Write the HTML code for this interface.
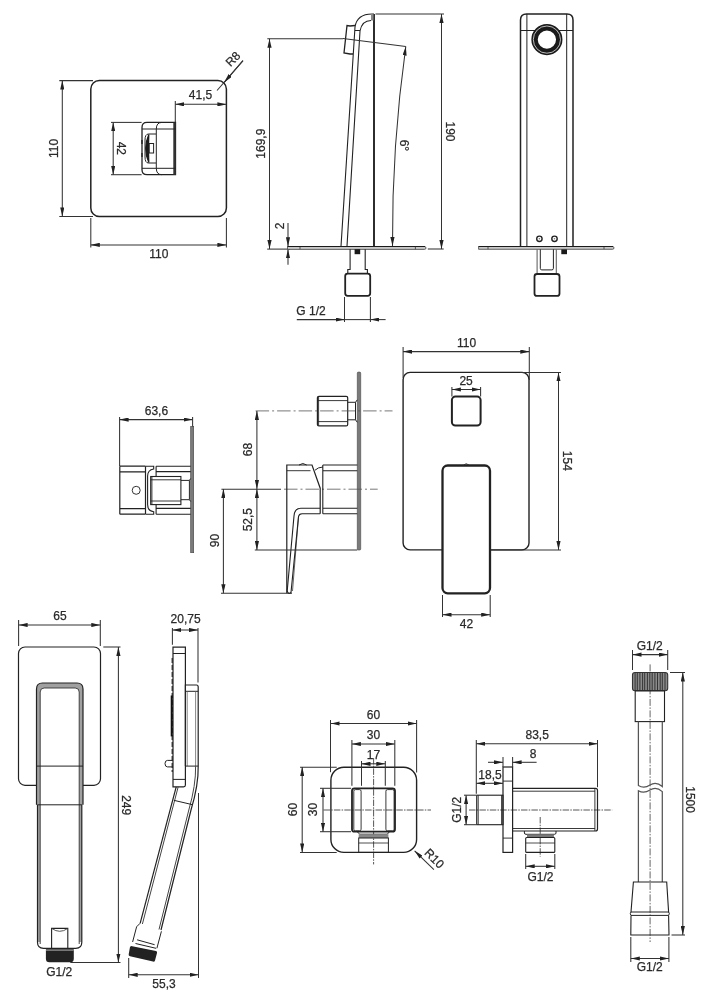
<!DOCTYPE html>
<html><head><meta charset="utf-8">
<style>
html,body{margin:0;padding:0;background:#fff;width:703px;height:1000px;overflow:hidden}
svg{display:block;will-change:transform}
.o{stroke:#222;fill:none}
.o:not([stroke-width]){stroke-width:1.5}
.d{stroke:#333;fill:none}
.d:not([stroke-width]){stroke-width:1.05}
.c{stroke:#555;stroke-width:0.8;fill:none;stroke-dasharray:13.5 3 2 3}
.cf{stroke:#444;stroke-width:0.9;fill:none;stroke-dasharray:6.5 1.2 1.5 1.2}
text{font-family:"Liberation Sans",sans-serif;font-size:12px;fill:#2a2a2a;stroke:#2a2a2a;stroke-width:0.25px;text-anchor:middle}
</style></head><body>
<svg width="703" height="1000" viewBox="0 0 703 1000">
<defs>
<marker id="a" viewBox="0 0 9 4.2" refX="9" refY="2.1" markerWidth="9" markerHeight="4.2" markerUnits="userSpaceOnUse" orient="auto-start-reverse"><path d="M0,0 L9,2.1 L0,4.2 z" fill="#222"/></marker>
</defs>

<!-- ===== Section 1: top-left plate ===== -->
<g id="s1">
<rect class="o" x="90.8" y="80.6" width="135.6" height="135.8" rx="8.5"/>
<line class="d" x1="59.3" y1="80.6" x2="93" y2="80.6"/>
<line class="d" x1="59.3" y1="216.4" x2="93" y2="216.4"/>
<line class="d" x1="62.3" y1="80.6" x2="62.3" y2="216.4" marker-start="url(#a)" marker-end="url(#a)"/>
<text transform="translate(57.5,148.4) rotate(-90)">110</text>
<line class="d" x1="90.8" y1="218" x2="90.8" y2="247.4"/>
<line class="d" x1="226.4" y1="218" x2="226.4" y2="247.4"/>
<line class="d" x1="90.8" y1="244.9" x2="226.4" y2="244.9" marker-start="url(#a)" marker-end="url(#a)"/>
<text x="158.9" y="257.7">110</text>
<!-- 41,5 -->
<line class="d" x1="175.3" y1="101" x2="175.3" y2="122"/>
<line class="d" x1="175.3" y1="104.3" x2="226.4" y2="104.3" marker-start="url(#a)" marker-end="url(#a)"/>
<text x="200.5" y="99">41,5</text>
<!-- R8 -->
<line class="d" x1="243" y1="60.7" x2="217" y2="90.5"/>
<line class="d" x1="243" y1="60.7" x2="224.3" y2="82.3" marker-end="url(#a)"/>
<text transform="translate(235.8,61.9) rotate(-45)">R8</text>
<!-- 42 -->
<line class="d" x1="111" y1="122.4" x2="141.6" y2="122.4"/>
<line class="d" x1="111" y1="174.7" x2="141.6" y2="174.7"/>
<line class="d" x1="113.2" y1="122.4" x2="113.2" y2="174.7" marker-start="url(#a)" marker-end="url(#a)"/>
<text transform="translate(117.2,148.3) rotate(90)">42</text>
<!-- handle -->
<path class="o" d="M175.5,122.4 H147 Q142,122.4 142,127.4 V169.7 Q142,174.7 147,174.7 H175.5 Z" stroke-width="1.3"/>
<rect x="173.3" y="122.4" width="2.4" height="52.3" fill="#333"/>
<path class="o" d="M162,122.4 Q156.3,122.4 156.3,129 V168.3 Q156.3,174.7 162,174.7" stroke-width="1"/>
<line class="o" x1="142" y1="129" x2="175.5" y2="129" stroke-width="1"/>
<line class="o" x1="142" y1="168.3" x2="175.5" y2="168.3" stroke-width="1"/>
<path class="o" d="M156,134 H148.5 Q145,134 145,140 V157 Q145,163 148.5,163 H156" stroke-width="1"/>
<path d="M148.8,134.5 Q142.6,148.5 148.8,162.5 Q148.2,148.5 148.8,134.5 Z" fill="#1a1a1a" stroke="#1a1a1a" stroke-width="1.2"/>
<rect class="o" x="149.2" y="143.5" width="4.4" height="9.5" stroke-width="1"/>
<line x1="142" y1="140" x2="142" y2="144" stroke="#222" stroke-width="1.4"/>
<line x1="142" y1="153" x2="142" y2="157" stroke="#222" stroke-width="1.4"/>
</g>

<!-- ===== Section 2: spout side view ===== -->
<g id="s2">
<line x1="374" y1="14" x2="374" y2="246.3" stroke="#222" stroke-width="1.9"/>
<path class="o" d="M341,246.3 L355,27 Q357,14 372,14 H374" stroke-width="1.1"/>
<path class="o" d="M347,246.3 L360,31 Q362,20.5 371,20.5" stroke-width="1.1"/>
<rect x="371" y="14" width="2.5" height="6.5" fill="#888"/>
<line class="o" x1="355" y1="30.5" x2="360" y2="30.5" stroke-width="1"/>
<path class="o" d="M355,25.5 L350,26 L347,25.5 L344,53 L350,54 L353,54" stroke-width="1.3"/>
<!-- angled reference line -->
<line class="d" x1="267.3" y1="38.8" x2="343" y2="38.8"/>
<line class="d" x1="343" y1="38.6" x2="405.8" y2="46.5"/>
<!-- 6 deg arc -->
<path class="d" d="M405.8,46.5 Q391.85,145.75 392.5,246" marker-start="url(#a)" marker-end="url(#a)"/>
<text transform="translate(400,145.4) rotate(90)">6°</text>
<!-- 190 -->
<line class="d" x1="375.5" y1="14" x2="444" y2="14"/>
<line class="d" x1="441.5" y1="14" x2="441.5" y2="249" marker-start="url(#a)" marker-end="url(#a)"/>
<text transform="translate(446.3,131.5) rotate(90)">190</text>
<!-- 169,9 -->
<line class="d" x1="269.5" y1="38.8" x2="269.5" y2="249" marker-start="url(#a)" marker-end="url(#a)"/>
<text transform="translate(265.2,143.7) rotate(-90)">169,9</text>
<line class="d" x1="267.2" y1="249.1" x2="290" y2="249.1"/>
<line class="d" x1="427.8" y1="249" x2="443.7" y2="249"/>
<!-- 2 -->
<line class="d" x1="288" y1="223" x2="288" y2="246.3" marker-end="url(#a)"/>
<line class="d" x1="288" y1="264.8" x2="288" y2="249.3" marker-end="url(#a)"/>
<text transform="translate(283.5,226) rotate(-90)">2</text>
<!-- plate -->
<path d="M287.5,246.5 H424.5 Q426,246.5 426,248 Q426,249.4 424.5,249.4 H287.5 Z" fill="#c8c8c8" stroke="#444" stroke-width="0.8"/>
<line x1="287.5" y1="246.5" x2="425" y2="246.5" stroke="#1a1a1a" stroke-width="1.2"/>
<line x1="300" y1="246.8" x2="300" y2="249.2" stroke="#333" stroke-width="0.8"/>
<line x1="415.4" y1="246.8" x2="415.4" y2="249.2" stroke="#333" stroke-width="0.8"/>
<!-- stem / nut -->
<path class="o" d="M350.1,249.2 V269.5 H347.8 V273.4 M365.2,249.2 V269.5 H367.4 V273.4" stroke-width="1.1"/>
<rect class="o" x="345.2" y="273.6" width="25" height="22.2" rx="2.5" stroke-width="1.8"/>
<rect x="354.6" y="249.2" width="5.6" height="5" fill="#1a1a1a"/>
<!-- G 1/2 -->
<line class="d" x1="344.5" y1="297" x2="344.5" y2="322"/>
<line class="d" x1="370.4" y1="297" x2="370.4" y2="322"/>
<line class="d" x1="296.8" y1="319.6" x2="344.5" y2="319.6" marker-end="url(#a)"/>
<line class="d" x1="385.6" y1="319.6" x2="370.4" y2="319.6" marker-end="url(#a)"/>
<line class="d" x1="344.5" y1="319.6" x2="370.4" y2="319.6"/>
<text x="311" y="315">G 1/2</text>
</g>

<!-- ===== Section 3: spout front view ===== -->
<g id="s3">
<path class="o" d="M520.5,246.5 V20 Q520.5,14 526.5,14 H567 Q573,14 573,20 V246.5"/>
<line class="o" x1="526.9" y1="14" x2="526.9" y2="246.5" stroke-width="1"/>
<line class="o" x1="566.7" y1="14" x2="566.7" y2="246.5" stroke-width="1"/>
<line class="o" x1="520.5" y1="30.5" x2="573" y2="30.5" stroke-width="1"/>
<circle cx="546.9" cy="39.6" r="12.35" fill="#fff" stroke="#1a1a1a" stroke-width="6.4"/>
<circle cx="546.9" cy="39.6" r="13.6" fill="none" stroke="#fff" stroke-width="0.7"/>
<circle cx="539.4" cy="238.8" r="2.7" fill="#fff" stroke="#222" stroke-width="1.4"/>
<circle cx="539.4" cy="238.8" r="0.8" fill="#777"/>
<circle cx="554.5" cy="238.8" r="2.7" fill="#fff" stroke="#222" stroke-width="1.4"/>
<circle cx="554.5" cy="238.8" r="0.8" fill="#777"/>
<path d="M478.6,246.5 H612.6 Q614,246.5 614,247.9 Q614,249.3 612.6,249.3 H478.6 Z" fill="#c8c8c8" stroke="#444" stroke-width="0.8"/>
<line x1="478.6" y1="246.5" x2="613" y2="246.5" stroke="#1a1a1a" stroke-width="1.2"/>
<line x1="488" y1="246.8" x2="488" y2="249.1" stroke="#333" stroke-width="0.8"/>
<line x1="604" y1="246.8" x2="604" y2="249.1" stroke="#333" stroke-width="0.8"/>
<path d="M537.1,249.3 V273.8 M556.3,249.3 V273.8" stroke="#666" stroke-width="1.1" fill="none"/>
<path class="o" d="M540.3,249.3 V268.4 Q540.3,269.9 541.8,269.9 H551.9 Q553.4,269.9 553.4,268.4 V249.3" stroke-width="1"/>
<rect class="o" x="534.5" y="274" width="25" height="21.9" rx="2.5" stroke-width="1.8"/>
<rect x="561.3" y="249.4" width="5.7" height="4.8" fill="#1a1a1a"/>
</g>

<!-- ===== Section 4a: mixer top view ===== -->
<g id="s4a">
<line class="d" x1="119.6" y1="417" x2="119.6" y2="466"/>
<line class="d" x1="192.6" y1="417" x2="192.6" y2="427"/>
<line class="d" x1="119.6" y1="419.6" x2="192.6" y2="419.6" marker-start="url(#a)" marker-end="url(#a)"/>
<text x="156.4" y="414.8">63,6</text>
<rect x="190.7" y="426.4" width="3" height="126.3" fill="#7a7a7a" stroke="#444" stroke-width="0.6"/>
<path class="o" d="M119.8,466.2 H145.5 M119.8,514.2 H145.5 M119.8,466.2 V514.2 M145.5,466.2 V514.2 M119.8,471.9 H145.5 M119.8,508.6 H145.5" stroke-width="1.2"/>
<circle cx="136.2" cy="490.3" r="4" fill="none" stroke="#333" stroke-width="1"/>
<path class="o" d="M145.8,466.2 H153.7 V469 Q147.6,470 147.6,476 V504.6 Q147.6,511 153.7,511.8 V514.2 H145.8" stroke-width="1.1"/>
<path class="o" d="M156.1,466.2 H190.7 M156.1,514.2 H190.7 M156.1,466.2 V476.5 M156.1,504.6 V514.2 M156.1,471.6 H190.7 M156.1,508.4 H190.7" stroke-width="1.1"/>
<rect class="o" x="150.7" y="476.5" width="30.2" height="28.1" stroke-width="1.1"/>
<path class="o" d="M150.7,479.8 H180.9 M150.7,501 H180.9 M151.9,476.5 V504.6" stroke-width="0.9"/>
<path class="o" d="M180.9,480.4 H189.4 L190.7,478.5 M180.9,499.7 H189.4 L190.7,501.5 M189.4,480.4 V499.7" stroke-width="1"/>
<!-- 90 dim (shared) -->
</g>

<!-- ===== Section 4b: mixer side view ===== -->
<g id="s4b">
<rect x="357.3" y="372.1" width="3.4" height="177.9" rx="1" fill="#7a7a7a" stroke="#444" stroke-width="0.6"/>
<rect class="o" x="317.4" y="396.3" width="30.3" height="29.6" rx="1.5" stroke-width="1.2"/>
<path class="o" d="M317.4,400.6 H347.7 M317.4,421.6 H347.7 M318.6,396.3 V425.9" stroke-width="0.9"/>
<path class="o" d="M347.7,402.3 H355.5 M347.7,419.8 H355.5 M355.5,402.3 V419.8 M355.5,402.3 L357.3,399.8 M355.5,419.8 L357.3,422.3" stroke-width="1"/>
<line class="c" x1="255.6" y1="410.9" x2="392.5" y2="410.9"/>
<line class="d" x1="221.4" y1="489.2" x2="281" y2="489.2"/>
<line class="c" x1="284" y1="489.2" x2="377.7" y2="489.2"/>
<!-- lever body -->
<path class="o" d="M286.8,593.2 V465 H312 L320.2,488.2 V513.7" stroke-width="1.2"/>
<path class="o" d="M299,465 Q302.8,462 306.7,465" stroke-width="1"/>
<path class="o" d="M286.8,470.7 H310.5" stroke-width="0.9"/>
<path class="o" d="M315,470.2 Q318,467.2 323,467" stroke-width="1"/>
<path class="o" d="M322.8,465 V513.7 M322.8,465 H357.3 M322.8,513.7 H357.3 M322.8,470.7 H357.3 M322.8,508.2 H357.3" stroke-width="1.1"/>
<path class="o" d="M320.2,508.2 H301 Q294.5,508.2 294,516 L287.2,591 Q288.5,595 291,592.5 L298.5,516.7 Q299,513.7 302,513.7 H320.2" stroke-width="1.1"/>
<path class="o" d="M298.5,516.7 L292.5,591" stroke-width="0.7"/>
<!-- dims -->
<line class="d" x1="254.8" y1="550" x2="357.3" y2="550"/>
<line class="d" x1="221" y1="593.2" x2="292" y2="593.2"/>
<line class="d" x1="256.9" y1="410.9" x2="256.9" y2="489" marker-start="url(#a)" marker-end="url(#a)"/>
<text transform="translate(252.2,449.5) rotate(-90)">68</text>
<line class="d" x1="256.9" y1="489" x2="256.9" y2="550" marker-start="url(#a)" marker-end="url(#a)"/>
<text transform="translate(252,519.7) rotate(-90)">52,5</text>
<line class="d" x1="223.4" y1="489" x2="223.4" y2="593.2" marker-start="url(#a)" marker-end="url(#a)"/>
<text transform="translate(218.5,540.5) rotate(-90)">90</text>
</g>

<!-- ===== Section 4c: mixer front view ===== -->
<g id="s4c">
<rect class="o" x="403.1" y="372.4" width="125.9" height="177.5" rx="7" stroke-width="1.4"/>
<rect x="451.9" y="396.6" width="28.7" height="28.9" rx="3.5" fill="none" stroke="#222" stroke-width="2"/>
<rect x="442.5" y="465.5" width="47.5" height="127.8" rx="5.2" fill="#fff" stroke="#222" stroke-width="2.3"/>
<path d="M463.5,465 Q466.2,462.6 469,465" fill="none" stroke="#333" stroke-width="1"/>
<!-- dims -->
<line class="d" x1="403.1" y1="347" x2="403.1" y2="378"/>
<line class="d" x1="529.3" y1="347" x2="529.3" y2="380"/>
<line class="d" x1="403.1" y1="351.6" x2="529.3" y2="351.6" marker-start="url(#a)" marker-end="url(#a)"/>
<text x="466.5" y="346.5">110</text>
<line class="d" x1="451.9" y1="387" x2="451.9" y2="396.6"/>
<line class="d" x1="480.6" y1="387" x2="480.6" y2="396.6"/>
<line class="d" x1="451.9" y1="389.5" x2="480.6" y2="389.5" marker-start="url(#a)" marker-end="url(#a)"/>
<text x="466.1" y="385.2">25</text>
<line class="d" x1="520" y1="372.4" x2="561" y2="372.4"/>
<line class="d" x1="491" y1="549.9" x2="561" y2="549.9"/>
<line class="d" x1="558.5" y1="372.4" x2="558.5" y2="549.9" marker-start="url(#a)" marker-end="url(#a)"/>
<text transform="translate(562.5,460.8) rotate(90)">154</text>
<line class="d" x1="442.5" y1="595" x2="442.5" y2="617"/>
<line class="d" x1="490.2" y1="595" x2="490.2" y2="617"/>
<line class="d" x1="442.5" y1="614.7" x2="490.2" y2="614.7" marker-start="url(#a)" marker-end="url(#a)"/>
<text x="466.5" y="627.6">42</text>
</g>

<!-- ===== Section 5a: hand shower front ===== -->
<g id="s5a">
<rect class="o" x="18.5" y="647" width="82" height="138.3" rx="6.5" stroke-width="1.2"/>
<!-- body frame -->
<path d="M36.5,804.8 V689 Q36.5,683 42.5,683 H77 Q83,683 83,689 V804.8 H81.8 V942.3 Q81.8,948.3 75.8,948.3 H43.5 Q37.5,948.3 37.5,942.3 V804.8 Z" fill="#fff"/>
<path d="M36.5,689 Q36.5,683 42.5,683 H77 Q83,683 83,689 V804.8 H81.8 V942 H79.2 V692 Q79.2,688 75.2,688 H44.2 Q40.2,688 40.2,692 V942 H37.5 V804.8 H36.5 Z" fill="#a0a0a0"/>
<path d="M36.5,804.8 V689 Q36.5,683 42.5,683 H77 Q83,683 83,689 V804.8 M37.5,804.8 V942.3 Q37.5,948.3 43.5,948.3 H75.8 Q81.8,948.3 81.8,942.3 V804.8" fill="none" stroke="#222" stroke-width="1.2"/>
<path d="M40.2,944 V692 Q40.2,688 44.2,688 H75.2 Q79.2,688 79.2,692 V944" fill="none" stroke="#333" stroke-width="0.9"/>
<line class="o" x1="36.5" y1="766.1" x2="83" y2="766.1" stroke-width="1"/>
<line class="o" x1="37.5" y1="804.8" x2="81.8" y2="804.8" stroke-width="1"/>
<!-- connector -->
<path class="o" d="M51.6,948.3 V928.4 H67.8 V948.3" stroke-width="1.1"/>
<path d="M52,928.6 Q59.7,934 67.5,928.6" fill="none" stroke="#444" stroke-width="0.9"/>
<!-- thread -->
<path d="M45.9,949.3 H73.8 V958.8 Q73.8,962.3 70.3,962.3 H49.4 Q45.9,962.3 45.9,958.8 Z" fill="#222"/>
<line x1="46" y1="950.4" x2="73.7" y2="950.4" stroke="#999" stroke-width="0.8"/>
<!-- dims -->
<line class="d" x1="18.6" y1="620" x2="18.6" y2="646"/>
<line class="d" x1="100.3" y1="620" x2="100.3" y2="646"/>
<line class="d" x1="18.6" y1="625" x2="100.3" y2="625" marker-start="url(#a)" marker-end="url(#a)"/>
<text x="60" y="619.6">65</text>
<line class="d" x1="103.3" y1="647" x2="120.5" y2="647"/>
<line class="d" x1="70.3" y1="962.5" x2="120.5" y2="962.5"/>
<line class="d" x1="118.4" y1="647" x2="118.4" y2="962.5" marker-start="url(#a)" marker-end="url(#a)"/>
<text transform="translate(122,805.2) rotate(90)">249</text>
<text x="59.3" y="975.7">G1/2</text>
</g>

<!-- ===== Section 5b: hand shower side ===== -->
<g id="s5b">
<path class="o" d="M173,786.8 V647.2 H185.4 V785 Q185.4,786.8 183.6,786.8 Z" stroke-width="1.2"/>
<line class="o" x1="173" y1="653.5" x2="185.4" y2="653.5" stroke-width="1"/>
<line class="o" x1="173" y1="779.4" x2="185.4" y2="779.4" stroke-width="1"/>
<line x1="172.2" y1="658" x2="172.2" y2="772" stroke="#222" stroke-width="1.2" stroke-dasharray="5 2"/>
<line x1="171.7" y1="695.5" x2="171.7" y2="736.4" stroke="#111" stroke-width="2"/>
<path class="o" d="M173,760.4 H167.5 Q165,760.4 165,763.6 Q165,766.9 167.5,766.9 H173" stroke-width="1"/>
<!-- head -->
<path class="o" d="M185.4,766.1 V685 H196.5 Q198.2,685 198.2,687 V766.1" stroke-width="1.2"/>
<line class="o" x1="185.4" y1="691.3" x2="198.2" y2="691.3" stroke-width="1"/>
<line x1="195.6" y1="691.3" x2="195.6" y2="766" stroke="#666" stroke-width="0.8"/>
<line x1="187.2" y1="691.3" x2="187.2" y2="766" stroke="#666" stroke-width="0.8"/>
<line class="o" x1="185.4" y1="766.1" x2="198.2" y2="766.1" stroke-width="1"/>
<!-- grip -->
<path class="o" d="M198.2,766.1 Q198.6,785 191,810 L161,930" stroke-width="1.2"/>
<path d="M195.6,766.1 Q196,785 188.8,810 L159,929.5" fill="none" stroke="#444" stroke-width="1"/>
<path class="o" d="M176.2,786.8 L140.2,923.2" stroke-width="1.2"/>
<path d="M178.2,786.8 L142.4,924" fill="none" stroke="#444" stroke-width="1"/>
<line class="o" x1="173.8" y1="800.3" x2="192.6" y2="804.7" stroke-width="1"/>
<!-- ferrule -->
<path class="o" d="M140.2,923.2 L136.6,926.8 L132.6,942" stroke-width="1"/>
<path class="o" d="M161.4,931.3 L156.9,948.3" stroke-width="1"/>
<line class="o" x1="137.1" y1="939.8" x2="154.6" y2="944.7" stroke-width="1"/>
<line class="o" x1="135.5" y1="943.5" x2="156" y2="948.3" stroke-width="1"/>
<path d="M131,946.1 L156,951 Q157.5,951.5 157,953 L155,960.5 Q154.5,962 153,961.6 L130,956.2 Q128.3,955.7 128.7,954.2 L130,947 Z" fill="#222"/>
<!-- dims -->
<line class="d" x1="172.4" y1="628" x2="172.4" y2="644.7"/>
<line class="d" x1="198" y1="628" x2="198" y2="682.6"/>
<line class="d" x1="172.4" y1="630" x2="198" y2="630" marker-start="url(#a)" marker-end="url(#a)"/>
<text x="185.6" y="622.8">20,75</text>
<line class="d" x1="128.7" y1="958" x2="128.7" y2="978"/>
<line class="d" x1="198.5" y1="793" x2="198.5" y2="978"/>
<line class="d" x1="128.7" y1="974.8" x2="198.5" y2="974.8" marker-start="url(#a)" marker-end="url(#a)"/>
<text x="164" y="988">55,3</text>
</g>

<!-- ===== Section 5c: wall outlet front ===== -->
<g id="s5c">
<rect class="o" x="330.9" y="767.2" width="85.7" height="85.2" rx="13" stroke-width="1.4"/>
<line class="cf" x1="373.6" y1="758" x2="373.6" y2="864.4"/>
<line class="cf" x1="323.5" y1="810" x2="431" y2="810"/>
<rect class="o" x="352" y="788.3" width="43" height="43.4" rx="2.5" stroke-width="1.8"/>
<rect class="o" x="353.8" y="789.6" width="7.3" height="41.2" rx="1.6" stroke-width="0.9"/>
<rect class="o" x="385.9" y="789.6" width="8.2" height="41.2" rx="1.6" stroke-width="0.9"/>
<path class="o" d="M357.1,831.7 L359.8,834.2 H387.3 L389.5,831.7" stroke-width="1"/>
<rect x="358.7" y="834.2" width="29.7" height="3.8" fill="#888"/>
<rect class="o" x="358.7" y="838" width="29.7" height="14.4" stroke-width="1"/>
<line class="o" x1="358.7" y1="843" x2="388.4" y2="843" stroke-width="0.8"/>
<!-- dims -->
<line class="d" x1="330.5" y1="720" x2="330.5" y2="772.2"/>
<line class="d" x1="416.6" y1="720" x2="416.6" y2="772.5"/>
<line class="d" x1="330.5" y1="723.5" x2="416.6" y2="723.5" marker-start="url(#a)" marker-end="url(#a)"/>
<text x="373.5" y="719">60</text>
<line class="d" x1="351.9" y1="740" x2="351.9" y2="785.8"/>
<line class="d" x1="394.8" y1="740" x2="394.8" y2="785.8"/>
<line class="d" x1="351.9" y1="744" x2="394.8" y2="744" marker-start="url(#a)" marker-end="url(#a)"/>
<text x="373.5" y="739.2">30</text>
<line class="d" x1="361.5" y1="761" x2="361.5" y2="785.8"/>
<line class="d" x1="385.3" y1="761" x2="385.3" y2="785.8"/>
<line class="d" x1="361.5" y1="763.8" x2="385.3" y2="763.8" marker-start="url(#a)" marker-end="url(#a)"/>
<text x="373.5" y="758.8">17</text>
<line class="d" x1="300" y1="767.2" x2="336.7" y2="767.2"/>
<line class="d" x1="300" y1="852.4" x2="336.7" y2="852.4"/>
<line class="d" x1="302.2" y1="767.1" x2="302.2" y2="852.4" marker-start="url(#a)" marker-end="url(#a)"/>
<text transform="translate(297.3,809.5) rotate(-90)">60</text>
<line class="d" x1="320" y1="788.3" x2="351" y2="788.3"/>
<line class="d" x1="320" y1="831.7" x2="351" y2="831.7"/>
<line class="d" x1="323" y1="788.3" x2="323" y2="831.7" marker-start="url(#a)" marker-end="url(#a)"/>
<text transform="translate(317,809.5) rotate(-90)">30</text>
<line class="d" x1="433.9" y1="869.6" x2="414.6" y2="850.8" marker-end="url(#a)"/>
<text transform="translate(431.5,861.4) rotate(45)">R10</text>
</g>

<!-- ===== Section 5d: wall outlet side ===== -->
<g id="s5d">
<line class="cf" x1="469" y1="810" x2="612.2" y2="810"/>
<line class="cf" x1="540.2" y1="817" x2="540.2" y2="856.6"/>
<rect class="o" x="503" y="767" width="9.6" height="85.4" stroke-width="1.2"/>
<path class="o" d="M503,781.1 H512.6 M503,838.1 H512.6" stroke-width="0.9"/>
<rect class="o" x="476.7" y="795.2" width="26.3" height="29.5" stroke-width="1.1"/>
<path class="o" d="M478.2,795.2 V824.7 M501.6,795.2 V824.7" stroke-width="0.9"/>
<path class="o" d="M512.6,788.4 H595.5 Q597.5,788.4 597.5,790.4 V829 Q597.5,831 595.5,831 H512.6" stroke-width="1.2"/>
<path class="o" d="M512.6,791.2 H594.9 M512.6,828.5 H594.9 M594.9,788.4 V831" stroke-width="0.9"/>
<path class="o" d="M524.4,831 V833 Q524.4,834.3 526,834.3 H554.4 Q556,834.3 556,833 V831" stroke-width="1"/>
<rect x="527" y="834.3" width="26.9" height="3.2" fill="#777"/>
<rect class="o" x="525.7" y="837.5" width="29.1" height="14.9" rx="1" stroke-width="1.1"/>
<line class="o" x1="525.7" y1="843" x2="554.8" y2="843" stroke-width="0.8"/>
<!-- dims -->
<line class="d" x1="476.3" y1="740" x2="476.3" y2="793.8"/>
<line class="d" x1="597.5" y1="740" x2="597.5" y2="787.2"/>
<line class="d" x1="476.3" y1="743.8" x2="597.5" y2="743.8" marker-start="url(#a)" marker-end="url(#a)"/>
<text x="537.2" y="739.4">83,5</text>
<line class="d" x1="503" y1="757" x2="503" y2="767"/>
<line class="d" x1="512.6" y1="757" x2="512.6" y2="767"/>
<line class="d" x1="488" y1="762.3" x2="503" y2="762.3" marker-end="url(#a)"/>
<line class="d" x1="536.6" y1="762.3" x2="512.6" y2="762.3" marker-end="url(#a)"/>
<text x="533" y="757.5">8</text>
<line class="d" x1="476.3" y1="783.3" x2="503" y2="783.3" marker-start="url(#a)" marker-end="url(#a)"/>
<text x="490" y="778.7">18,5</text>
<line class="d" x1="464" y1="795.2" x2="476" y2="795.2"/>
<line class="d" x1="464" y1="824.7" x2="476" y2="824.7"/>
<line class="d" x1="466.1" y1="795.2" x2="466.1" y2="824.7" marker-start="url(#a)" marker-end="url(#a)"/>
<text transform="translate(461.2,809.8) rotate(-90)">G1/2</text>
<line class="d" x1="525.7" y1="854" x2="525.7" y2="869"/>
<line class="d" x1="554.8" y1="854" x2="554.8" y2="869"/>
<line class="d" x1="525.7" y1="866.3" x2="554.8" y2="866.3" marker-start="url(#a)" marker-end="url(#a)"/>
<text x="540.4" y="880.8">G1/2</text>
</g>

<!-- ===== Section 5e: hose ===== -->
<g id="s5e">
<line x1="650.1" y1="664.4" x2="650.1" y2="942" stroke="#555" stroke-width="0.9" stroke-dasharray="7 1.5 1.5 1.5"/>
<rect x="632.5" y="672.5" width="35.2" height="18.3" rx="2.5" fill="#8a8a8a" stroke="#333" stroke-width="1.1"/><line x1="635.1" y1="673" x2="635.1" y2="690.3" stroke="#2a2a2a" stroke-width="0.9"/><line x1="637.3" y1="673" x2="637.3" y2="690.3" stroke="#2a2a2a" stroke-width="0.9"/><line x1="639.9" y1="673" x2="639.9" y2="690.3" stroke="#2a2a2a" stroke-width="0.9"/><line x1="642.6" y1="673" x2="642.6" y2="690.3" stroke="#2a2a2a" stroke-width="0.9"/><line x1="644.7" y1="673" x2="644.7" y2="690.3" stroke="#2a2a2a" stroke-width="0.9"/><line x1="647.4" y1="673" x2="647.4" y2="690.3" stroke="#2a2a2a" stroke-width="0.9"/><line x1="649.8" y1="673" x2="649.8" y2="690.3" stroke="#2a2a2a" stroke-width="0.9"/><line x1="652.2" y1="673" x2="652.2" y2="690.3" stroke="#2a2a2a" stroke-width="0.9"/><line x1="654.9" y1="673" x2="654.9" y2="690.3" stroke="#2a2a2a" stroke-width="0.9"/><line x1="657.5" y1="673" x2="657.5" y2="690.3" stroke="#2a2a2a" stroke-width="0.9"/><line x1="660.2" y1="673" x2="660.2" y2="690.3" stroke="#2a2a2a" stroke-width="0.9"/><line x1="662.3" y1="673" x2="662.3" y2="690.3" stroke="#2a2a2a" stroke-width="0.9"/><line x1="665" y1="673" x2="665" y2="690.3" stroke="#2a2a2a" stroke-width="0.9"/>
<rect class="o" x="635.2" y="690.8" width="29.3" height="30.8" stroke-width="1.1"/>
<path d="M638.4,721.6 V785.5 Q644,789 650,785 Q656,781 662.3,786.5 V721.6" fill="none" stroke="#555" stroke-width="1.25"/>
<path d="M638.4,882 V790.8 Q644,794 650,790 Q656,786 662.3,791.6 V882" fill="none" stroke="#555" stroke-width="1.25"/>
<path class="o" d="M633.4,882 H666.7 L668.6,912 H631 Z" stroke-width="1.1"/>
<path class="o" d="M631,912 Q629.5,913.7 631,915.4 H668.6 Q670.1,913.7 668.6,912" stroke-width="1"/>
<path class="o" d="M631,915.4 L630.8,935 H669 L668.6,915.4" stroke-width="1.1"/>
<!-- dims -->
<line class="d" x1="632.5" y1="650" x2="632.5" y2="670"/>
<line class="d" x1="667.7" y1="650" x2="667.7" y2="670"/>
<line class="d" x1="632.5" y1="654.6" x2="667.7" y2="654.6" marker-start="url(#a)" marker-end="url(#a)"/>
<text x="649.8" y="649.8">G1/2</text>
<line class="d" x1="670" y1="672.5" x2="685" y2="672.5"/>
<line class="d" x1="671.5" y1="935" x2="685" y2="935"/>
<line class="d" x1="682.8" y1="672.5" x2="682.8" y2="935" marker-start="url(#a)" marker-end="url(#a)"/>
<text transform="translate(686,799.6) rotate(90)">1500</text>
<line class="d" x1="630.8" y1="937" x2="630.8" y2="962"/>
<line class="d" x1="668.9" y1="937" x2="668.9" y2="962"/>
<line class="d" x1="630.8" y1="958.5" x2="668.9" y2="958.5" marker-start="url(#a)" marker-end="url(#a)"/>
<text x="649.8" y="971.4">G1/2</text>
</g>

</svg>
</body></html>
